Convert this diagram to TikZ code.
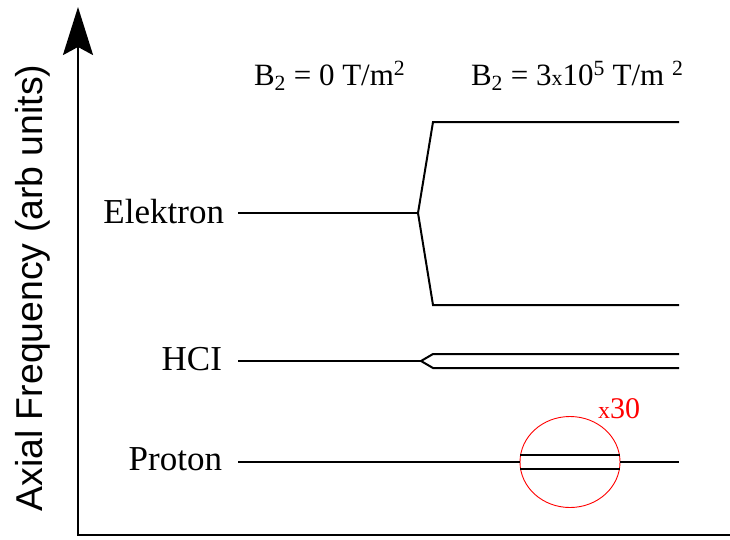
\documentclass[tikz,border=0pt]{standalone}
\usepackage{fontspec}
\setmainfont{Liberation Serif}
\newfontfamily\axisfont{Liberation Sans}
\usetikzlibrary{arrows.meta, shapes.geometric}
\newcommand{\smallx}{{\fontsize{22}{23}\selectfont x}}

\begin{document}
\begin{tikzpicture}[
    x=1pt, y=-1pt, line width=2pt,
    level/.style={draw, line join=miter},
    lbl/.style={anchor=base east, inner sep=0pt, font=\fontsize{35}{40}\selectfont},
    head/.style={anchor=base west, inner sep=0pt, font=\fontsize{31}{36}\selectfont},
    zoomring/.style={draw=red, line width=0.9pt, ellipse, inner sep=0pt, minimum width=100pt, minimum height=91pt}
]
    \useasboundingbox (0,0) rectangle (730,539);
    % axes
    \coordinate (origin) at (78,535);
    \coordinate (top) at (78,7);
    \coordinate (right) at (732,535);
    \draw[line width=2.5pt, {Stealth[length=48pt, width=30pt, inset=8pt]}-] (top) -- (origin) -- (right);
    \node[rotate=90, anchor=base, inner sep=0pt, font=\axisfont\fontsize{37.4}{42}\selectfont] (axis) at (42,288) {Axial Frequency (arb units)};

    % field headers
    \node[head] (bzero) at (253,85) {B\textsubscript{2} = 0 T/m\textsuperscript{2}};
    \node[head] (bhigh) at (470,85) {B\textsubscript{2} = 3\smallx10\textsuperscript{5} T/m \textsuperscript{2}};

    % labels
    \node[lbl] (elektron) at (225,223) {Elektron};
    \node[lbl] (hci) at (223,370) {HCI};
    \node[lbl] (proton) at (223,470) {Proton};

    % Elektron levels
    \coordinate (e0) at (238,213);
    \coordinate (esplit) at (418,213);
    \coordinate (eup) at (433,122);
    \coordinate (eupend) at (679,122);
    \coordinate (elow) at (433,305);
    \coordinate (elowend) at (679,305);
    \draw[level] (e0) -- (esplit);
    \draw[level] (eupend) -- (eup) -- (esplit) -- (elow) -- (elowend);

    % HCI levels
    \coordinate (h0) at (238,361);
    \coordinate (hsplit) at (421,361);
    \coordinate (hup) at (433,354);
    \coordinate (hupend) at (679,354);
    \coordinate (hlow) at (433,368);
    \coordinate (hlowend) at (679,368);
    \draw[level] (h0) -- (hsplit);
    \draw[level] (hupend) -- (hup) -- (hsplit) -- (hlow) -- (hlowend);

    % Proton levels with zoom
    \node[zoomring] (ring) at (570,462) {};
    \coordinate (p0) at (238,462);
    \coordinate (pend) at (679,462);
    \draw[level] (p0) -- (ring.west);
    \draw[level] (ring.east) -- (pend);
    \draw[level] (ring.172) -- (ring.8);
    \draw[level] (ring.188) -- (ring.352);
    \node[anchor=base west, inner sep=0pt, red, font=\fontsize{30}{34}\selectfont] (mag) at (597,418) {{\fontsize{24}{25}\selectfont x}30};
\end{tikzpicture}
\end{document}
